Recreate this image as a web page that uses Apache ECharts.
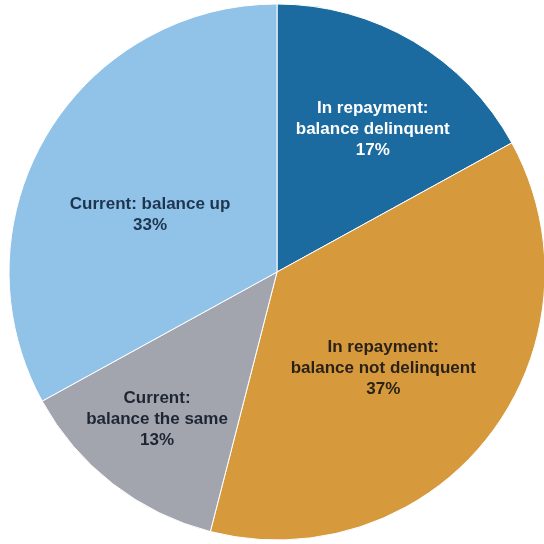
<!DOCTYPE html>
<html><head><meta charset="utf-8">
<script src="https://cdn.jsdelivr.net/npm/echarts@6/dist/echarts.min.js"></script>
<style>html,body{margin:0;padding:0;background:#fff}#c{width:544px;height:544px}</style>
</head><body><div id="c"></div>
<script>
var categories = ['In repayment:\nbalance delinquent', 'In repayment:\nbalance not delinquent', 'Current:\nbalance the same', 'Current: balance up'];
var values = [17, 37, 13, 33];
var colors = ['#1b6aa0', '#d69a3d', '#a2a5ad', '#91c2e7'];
var textColors = ['#ffffff', '#2a2118', '#1e2633', '#1d3550'];
var labelOffsets = [[26, -25], [-2, 12], [-36, 39], [-9, 13]];

var chart = echarts.init(document.getElementById('c'));
chart.setOption({
  animation: false,
  series: [{
    type: 'pie',
    center: [277, 272],
    radius: [0, 268],
    startAngle: 90,
    clockwise: true,
    avoidLabelOverlap: false,
    itemStyle: { borderColor: '#ffffff', borderWidth: 1 },
    label: {
      show: true, position: 'inside',
      fontFamily: 'Liberation Sans, Arial, sans-serif',
      fontWeight: 'bold', fontSize: 17, lineHeight: 21, align: 'center',
      formatter: function (p) { return p.name + '\n' + p.value + '%'; }
    },
    labelLine: { show: false },
    data: categories.map(function (n, i) {
      return {
        name: n, value: values[i],
        itemStyle: { color: colors[i] },
        label: { color: textColors[i], offset: labelOffsets[i] }
      };
    })
  }]
});
</script></body></html>
